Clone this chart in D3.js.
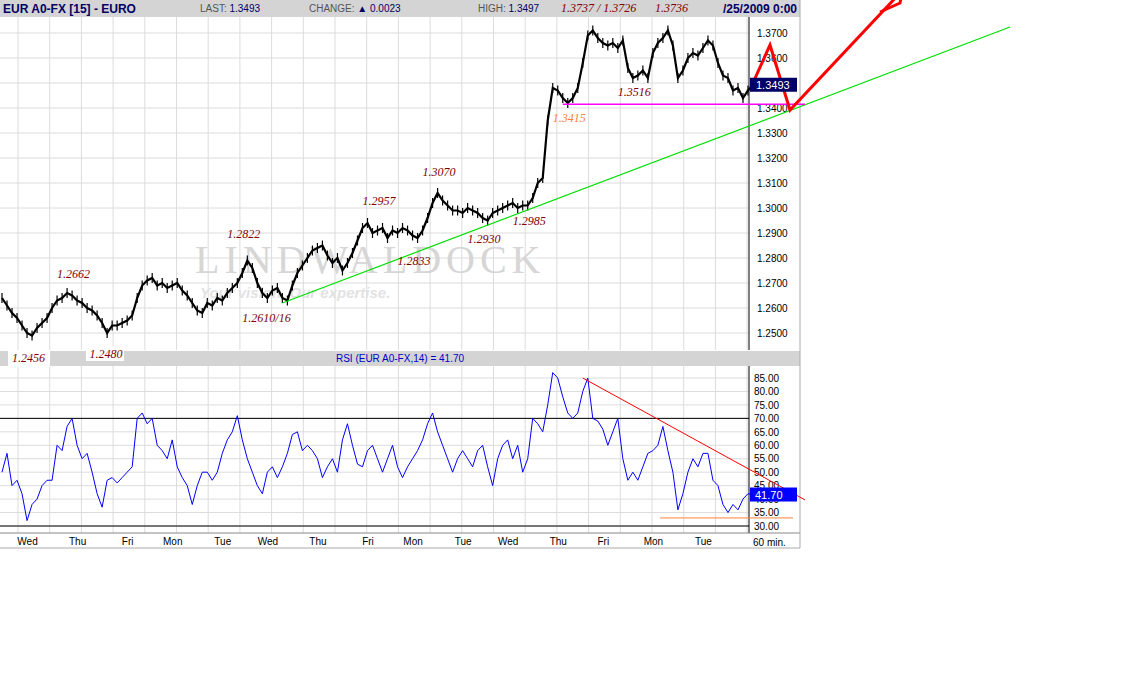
<!DOCTYPE html>
<html><head><meta charset="utf-8">
<script src="https://cdn.jsdelivr.net/npm/d3@7"></script>
<style>body{margin:0;background:#fff}text{font-family:Arial,"Liberation Sans",sans-serif}text.serif{font-family:"Liberation Serif",serif}</style>
</head><body><svg id="c" width="1142" height="681"></svg>
<script>
const price=[1.2640,1.2610,1.2580,1.2560,1.2530,1.2500,1.2490,1.2520,1.2540,1.2560,1.2600,1.2630,1.2640,1.2660,1.2650,1.2630,1.2620,1.2600,1.2590,1.2570,1.2540,1.2500,1.2530,1.2530,1.2540,1.2550,1.2570,1.2640,1.2690,1.2710,1.2720,1.2690,1.2700,1.2680,1.2690,1.2700,1.2670,1.2650,1.2620,1.2590,1.2580,1.2620,1.2610,1.2640,1.2630,1.2660,1.2680,1.2700,1.2740,1.2790,1.2760,1.2700,1.2660,1.2640,1.2670,1.2680,1.2640,1.2630,1.2690,1.2740,1.2770,1.2800,1.2830,1.2840,1.2850,1.2810,1.2780,1.2800,1.2750,1.2780,1.2820,1.2870,1.2920,1.2940,1.2900,1.2910,1.2920,1.2880,1.2910,1.2900,1.2920,1.2910,1.2890,1.2880,1.2910,1.2960,1.3020,1.3060,1.3030,1.3010,1.2990,1.2990,1.2980,1.3000,1.2990,1.2980,1.2960,1.2950,1.2980,1.2990,1.3000,1.3010,1.3020,1.3000,1.3010,1.3010,1.3040,1.3100,1.3120,1.3350,1.3480,1.3470,1.3440,1.3420,1.3440,1.3480,1.3580,1.3690,1.3710,1.3680,1.3660,1.3650,1.3660,1.3640,1.3670,1.3560,1.3520,1.3530,1.3550,1.3520,1.3620,1.3660,1.3680,1.3710,1.3650,1.3520,1.3550,1.3600,1.3620,1.3610,1.3640,1.3670,1.3650,1.3580,1.3530,1.3520,1.3470,1.3480,1.3440,1.3470,1.3493];
const rsi=[50,57,45,47,42,32,38,40,45,47,47,60,58,67,70,60,55,57,50,42,37,47,48,46,48,50,52,70,72,68,70,60,58,55,62,52,48,45,38,45,50,50,47,50,57,62,65,71,62,55,50,45,42,50,52,48,52,57,64,65,58,60,58,55,48,52,55,50,62,68,60,53,52,58,60,55,50,55,60,52,48,52,55,58,62,68,72,65,60,55,50,55,58,55,52,58,60,52,45,55,60,62,55,60,50,55,70,68,65,75,87,85,78,72,70,72,80,85,70,69,66,60,65,70,55,47,50,47,52,57,58,60,67,58,50,36,42,50,55,52,57,57,47,45,38,35,38,36,40,42,41.7];
const days=["Wed","Thu","Fri","Mon","Tue","Wed","Thu","Fri","Mon","Tue","Wed","Thu","Fri","Mon","Tue"];
const dayPos=[5,15,25,34,44,53,63,73,82,92,101,111,120,130,140];
const priceTicks=[1.25,1.26,1.27,1.28,1.29,1.30,1.31,1.32,1.33,1.34,1.35,1.36,1.37];
const rsiTicks=[30,35,40,45,50,55,60,65,70,75,80,85];
const notes=[["1.2662",11,1.2720,"#800000"],["1.2480",17.5,1.2400,"#800000"],["1.2456",2,1.2384,"#800000"],["1.2822",45,1.2880,"#800000"],["1.2610/16",48,1.2544,"#800000"],["1.2957",72,1.3012,"#800000"],["1.2833",79,1.2774,"#800000"],["1.3070",84,1.3128,"#800000"],["1.2930",93,1.2862,"#800000"],["1.2985",102,1.2934,"#800000"],["1.3415",110,1.3344,"#ff8040"],["1.3516",123,1.3448,"#800000"]];

const svg=d3.select("#c");
const x=d3.scaleLinear().domain([0,149]).range([2,748]);
const y=d3.scaleLinear().domain([1.25,1.37]).range([333,33]);
const yr=d3.scaleLinear().domain([30,85]).range([526,378]);
const g=svg.append("g");
g.append("rect").attr("x",0).attr("y",0).attr("width",800).attr("height",17).attr("fill","#d4d4d4");
g.append("rect").attr("x",0).attr("y",351).attr("width",800).attr("height",15).attr("fill","#d4d4d4");
const gx=d3.range(18,749,31.7);
[[17,350],[366,533]].forEach(([a,b])=>{
 g.selectAll(null).data(gx).enter().append("line").attr("x1",d=>d).attr("x2",d=>d).attr("y1",a).attr("y2",b).attr("stroke","#dcdcdc");
});
g.selectAll(null).data(d3.range(1.25,1.38,0.01)).enter().append("line").attr("x1",0).attr("x2",749).attr("y1",d=>y(d)).attr("y2",d=>y(d)).attr("stroke","#dcdcdc");
g.selectAll(null).data(rsiTicks).enter().append("line").attr("x1",0).attr("x2",749).attr("y1",d=>yr(d)).attr("y2",d=>yr(d)).attr("stroke","#dcdcdc");
const ay=d3.axisRight(y).tickValues(priceTicks).tickFormat(d3.format(".4f")).tickSize(0).tickPadding(8);
svg.append("g").attr("transform","translate(749,0)").call(ay).call(s=>{s.select(".domain").attr("stroke","#000").attr("d","M0,17V350");s.selectAll("text").attr("font-size",10);});
const ar=d3.axisRight(yr).tickValues(rsiTicks).tickFormat(d3.format(".2f")).tickSize(0).tickPadding(5);
svg.append("g").attr("transform","translate(749,0)").call(ar).call(s=>{s.select(".domain").attr("stroke","#000").attr("d","M0,366V533");s.selectAll("text").attr("font-size",10);});
const ax=d3.axisBottom(x).tickValues(dayPos).tickFormat((d,i)=>days[i]).tickSize(0).tickPadding(5);
svg.append("g").attr("transform","translate(0,533)").call(ax).call(s=>{s.select(".domain").attr("d","M0,0H800").attr("stroke","#888");s.selectAll("text").attr("font-size",10);});
svg.append("text").attr("x",753).attr("y",546).attr("font-size",10).text("60 min.");
svg.append("line").attr("x1",0).attr("x2",800).attr("y1",548).attr("y2",548).attr("stroke","#aaa");
svg.append("line").attr("x1",800).attr("x2",800).attr("y1",0).attr("y2",548).attr("stroke","#aaa");
svg.append("text").attr("class","serif").attr("x",195).attr("y",273).attr("font-size",40).attr("fill","#d6d6d6").attr("letter-spacing",5).text("LINDWALDOCK");
svg.append("text").attr("x",200).attr("y",298).attr("font-size",15).attr("font-style","italic").attr("font-weight","bold").attr("fill","#e2e2e2").text("Your vision. Our expertise.");
[70,30].forEach(v=>svg.append("line").attr("x1",0).attr("x2",749).attr("y1",yr(v)).attr("y2",yr(v)).attr("stroke","#000"));
svg.append("path").datum(price).attr("fill","none").attr("stroke","#000").attr("stroke-width",2.2).attr("d",d3.line().x((d,i)=>x(i)).y(d=>y(d)));
svg.append("g").selectAll("line").data(price).enter().append("line").attr("x1",(d,i)=>x(i)).attr("x2",(d,i)=>x(i)).attr("y1",d=>y(d)-5).attr("y2",d=>y(d)+5).attr("stroke","#000").attr("stroke-width",1.2);
svg.append("path").datum(rsi).attr("fill","none").attr("stroke","#0000ff").attr("stroke-width",1).attr("d",d3.line().x((d,i)=>x(i)).y(d=>yr(d)));
const ix=px=>x.invert(px);
const L=(x1,y1,x2,y2,c,w)=>svg.append("line").attr("x1",x1).attr("y1",y1).attr("x2",x2).attr("y2",y2).attr("stroke",c).attr("stroke-width",w);
L(x(56),y(1.2620),x(ix(1010)),y(1.3724),"#00e000",1.2);
L(x(112),y(1.3415),x(ix(805)),y(1.3415),"#ff00ff",1.5);
svg.append("path").attr("fill","none").attr("stroke","#ff0000").attr("stroke-width",3)
 .attr("d",d3.line()([[x(ix(752)),y(1.3492)],[x(ix(770)),y(1.3652)],[x(ix(790)),y(1.3392)],[x(ix(900)),y(1.3860)]]));
svg.append("path").attr("fill","none").attr("stroke","#ff0000").attr("stroke-width",3).attr("d","M880,12L900,3L902,-8");
L(x(116),yr(85),x(ix(805)),yr(39.7),"#ff0000",1);
L(x(ix(660)),yr(33),x(ix(793)),yr(33),"#ff8040",1);
svg.append("rect").attr("x",8).attr("y",351).attr("width",42).attr("height",16).attr("fill","#fff");
svg.append("rect").attr("x",86).attr("y",346).attr("width",38).attr("height",15).attr("fill","#fff");
notes.forEach(([t,i,p,c])=>svg.append("text").attr("class","serif").attr("x",x(i)).attr("y",y(p)).attr("font-size",12).attr("font-style","italic").attr("fill",c).text(t));
svg.append("rect").attr("x",750).attr("y",y(1.3493)-7).attr("width",47).attr("height",14).attr("fill","#000066");
svg.append("text").attr("x",756).attr("y",y(1.3493)+4).attr("font-size",11).attr("fill","#fff").text("1.3493");
svg.append("rect").attr("x",750).attr("y",yr(41.7)-7).attr("width",47).attr("height",14).attr("fill","#0000ff");
svg.append("text").attr("x",755).attr("y",yr(41.7)+4).attr("font-size",11).attr("fill","#fff").text("41.70");
svg.append("text").attr("x",3).attr("y",13).attr("font-size",12).attr("font-weight","bold").attr("fill","#000066").text("EUR A0-FX [15] - EURO");
svg.append("text").attr("x",200).attr("y",12).attr("font-size",10).attr("fill","#555").html('LAST: <tspan fill="#000066">1.3493</tspan>');
svg.append("text").attr("x",309).attr("y",12).attr("font-size",10).attr("fill","#555").html('CHANGE: <tspan fill="#000066">▲ 0.0023</tspan>');
svg.append("text").attr("x",478).attr("y",12).attr("font-size",10).attr("fill","#555").html('HIGH: <tspan fill="#000066">1.3497</tspan>');
svg.append("text").attr("class","serif").attr("x",561).attr("y",12).attr("font-size",12).attr("font-style","italic").attr("fill","#800000").text("1.3737 / 1.3726");
svg.append("text").attr("class","serif").attr("x",655).attr("y",12).attr("font-size",12).attr("font-style","italic").attr("fill","#800000").text("1.3736");
svg.append("text").attr("x",797).attr("y",13).attr("text-anchor","end").attr("font-size",12).attr("font-weight","bold").attr("fill","#000066").text("/25/2009 0:00");
svg.append("text").attr("x",400).attr("y",362).attr("text-anchor","middle").attr("font-size",10).attr("fill","#0000cc").text("RSI (EUR A0-FX,14) = 41.70");
</script></body></html>
